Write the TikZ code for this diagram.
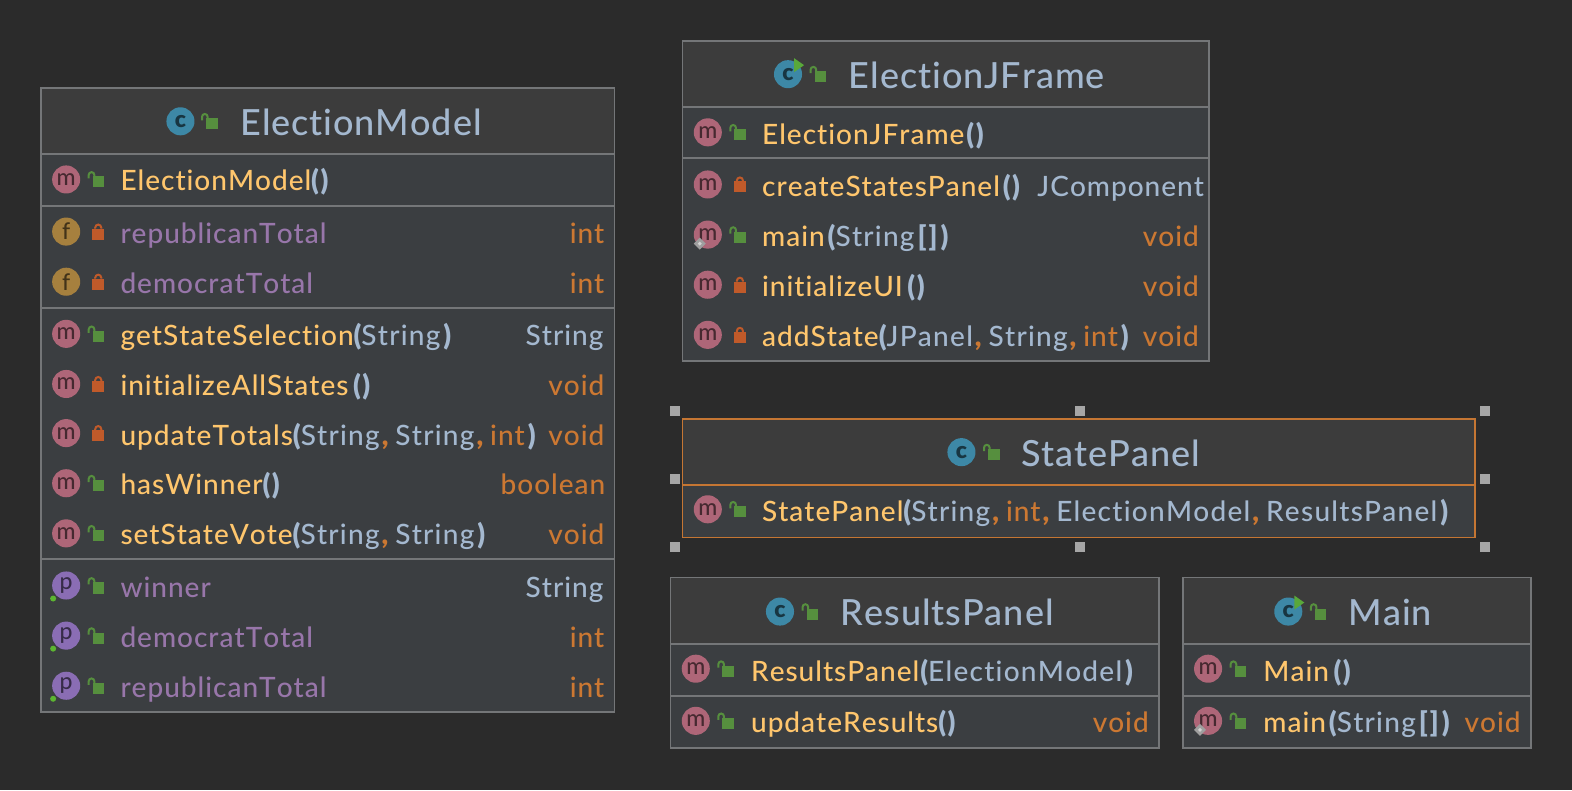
\documentclass[tikz,border=0pt]{standalone}
\usepackage{fontspec}
\setmainfont[LetterSpace=3.5,Kerning=Off,Ligatures=NoCommon,BoldFont={Lato Black}]{Lato Medium}
\definecolor{canvasbg}{HTML}{2B2B2B}
\definecolor{headbg}{HTML}{3C3C3C}
\definecolor{bodybg}{HTML}{3B3E41}
\definecolor{edgegray}{HTML}{747678}
\definecolor{pickorange}{HTML}{C57633}
\definecolor{titleblue}{HTML}{A4B8CF}
\definecolor{methyellow}{HTML}{FFC66D}
\definecolor{typeorange}{HTML}{CC7832}
\definecolor{fieldpurple}{HTML}{9876AA}
\definecolor{lockgreen}{HTML}{568F3E}
\definecolor{lockred}{HTML}{C05A2A}
\definecolor{runGreen}{HTML}{59A83A}
\definecolor{dotgreen}{HTML}{5CB531}
\definecolor{iconm}{HTML}{AE6678}
\definecolor{iconf}{HTML}{A6803E}
\definecolor{iconp}{HTML}{8A6DB4}
\definecolor{iconc}{HTML}{3D88A6}
\newcommand{\mth}[1]{\textcolor{methyellow}{#1}}
\newcommand{\prm}[1]{\textcolor{titleblue}{\addfontfeature{LetterSpace=4.5}#1}}
\newcommand{\fld}[1]{\textcolor{fieldpurple}{#1}}
\newcommand{\pn}[1]{\textcolor{titleblue}{\bfseries #1}}
\newcommand{\pe}{\pn{(}\hspace{1.5pt}\pn{)}}
\newcommand{\pc}{\hspace{3pt}\pn{)}}
\newcommand{\bkt}{\hspace{3pt}\pn{[}\hspace{2pt}\pn{]}\hspace{3pt}\pn{)}}
\newcommand{\cm}{\hspace{2pt}\textcolor{typeorange}{\bfseries ,}\hspace{7pt}}
\newcommand{\icon}[5]{\fill[#4] (#1,#2) circle (14);
  \node[iconletter,text=#4!40!black] (#5) at (#1,#2) {#3};}
\newcommand{\openlock}[2]{\begin{scope}[shift={(#1,#2)}]
  \fill[lockgreen] (-4.5,-3) rectangle (7,8);
  \draw[lockgreen,line width=2] (-8.5,-1) -- (-8.5,-4.5) arc (180:360:2.8) -- (-2.9,-2.5);
  \end{scope}}
\newcommand{\shutlock}[2]{\begin{scope}[shift={(#1,#2)}]
  \fill[lockred] (-5,-3) rectangle (7,8);
  \draw[lockred,line width=2] (-2,-3) -- (-2,-4) arc (180:360:3) -- (4,-3);
  \end{scope}}
\newcommand{\runmark}[2]{\fill[runGreen] (#1+6,#2-16) -- (#1+16,#2-9) -- (#1+6,#2-2) -- cycle;}
\newcommand{\staticmark}[2]{\fill[gray!75] (#1-8,#2+3) -- (#1-2,#2+9) -- (#1-8,#2+15) -- (#1-14,#2+9) -- cycle;
  \fill[gray!35] (#1-8,#2+7) -- (#1-6,#2+9) -- (#1-8,#2+11) -- (#1-10,#2+9) -- cycle;}
\newcommand{\classbox}[6]{\fill[bodybg] (#1,#2) rectangle (#3,#4);
  \fill[headbg] (#1,#2) rectangle (#3,#5);
  \draw[#6,line width=1.5] (#1,#2) rectangle (#3,#4);
  \draw[#6,line width=2] (#1,#5) -- (#3,#5);}
\tikzset{
  memb/.style={anchor=base west,inner sep=0pt,font=\fontsize{28}{30}\selectfont},
  kind/.style={anchor=base east,inner sep=0pt,font=\fontsize{28}{30}\selectfont,text=typeorange},
  cname/.style={anchor=base west,inner sep=0pt,font=\fontsize{36}{38}\selectfont\addfontfeature{LetterSpace=2.6},text=titleblue},
  iconletter/.style={inner sep=0pt,font=\fontsize{23}{24}\selectfont},
  sepline/.style={edgegray,line width=2},
  handle/.style={fill=gray!70!white,draw=none}
}
\begin{document}
\begin{tikzpicture}[x=1.0026pt,y=-1.0026pt]
\fill[canvasbg] (0,0) rectangle (1568,788);
\useasboundingbox (0,0) rectangle (1568,788);
% ElectionModel
\classbox{41}{88}{613}{710}{153.5}{edgegray}
\draw[sepline] (41,205)--(613,205) (41,307)--(613,307) (41,558)--(613,558);
\icon{180}{121}{\bfseries c}{iconc}{emHead}
\openlock{210}{121}
\node[cname] (emTitle) at (239.5,135) {ElectionModel};
\foreach \yy/\ltr/\col/\lk in {179/m/iconm/\openlock,231/f/iconf/\shutlock,281/f/iconf/\shutlock,
  333/m/iconm/\openlock,383/m/iconm/\shutlock,432/m/iconm/\shutlock,482/m/iconm/\openlock,532/m/iconm/\openlock,
  584/p/iconp/\openlock,634/p/iconp/\openlock,684/p/iconp/\openlock}{
  \icon{66}{\yy}{\ltr}{\col}{em\yy}
  \lk{97}{\yy}
}
\foreach \yy in {584,634,684}{
  \fill[dotgreen] (53,\yy+13) circle (3);
}
\node[memb] (emCtor) at (120,190.5) {\mth{ElectionModel}\pe};
\node[memb] (emRepF) at (120,242.5) {\fld{republicanTotal}};
\node[kind] (emRepFt) at (603,242.5) {int};
\node[memb] (emDemF) at (120,292.5) {\fld{democratTotal}};
\node[kind] (emDemFt) at (603,292.5) {int};
\node[memb] (emGet) at (120,344.5) {\mth{getStateSelection}\pn{(}\prm{String}\pc};
\node[kind,text=titleblue] (emGett) at (602,344.5) {String};
\node[memb] (emInit) at (120,394.5) {\mth{initializeAllStates}\,\pe};
\node[kind] (emInitt) at (603,394.5) {void};
\node[memb] (emUpd) at (120,444) {\mth{updateTotals}\pn{(}\prm{String}\cm\prm{String}\cm\textcolor{typeorange}{int}\pc};
\node[kind] (emUpdt) at (603,444) {void};
\node[memb] (emWin) at (120,493.5) {\mth{hasWinner}\pe};
\node[kind] (emWint) at (604,493.5) {boolean};
\node[memb] (emSet) at (120,543.5) {\mth{setStateVote}\pn{(}\prm{String}\cm\prm{String}\pc};
\node[kind] (emSett) at (603,543.5) {void};
\node[memb] (emWinP) at (120,595.5) {\fld{winner}};
\node[kind,text=titleblue] (emWinPt) at (602,595.5) {String};
\node[memb] (emDemP) at (120,645.5) {\fld{democratTotal}};
\node[kind] (emDemPt) at (603,645.5) {int};
\node[memb] (emRepP) at (120,695.5) {\fld{republicanTotal}};
\node[kind] (emRepPt) at (603,695.5) {int};
% ElectionJFrame
\classbox{681}{41}{1206}{360}{106.5}{edgegray}
\draw[sepline] (681,158)--(1206,158);
\icon{786}{74}{\bfseries c}{iconc}{efHead}
\runmark{786}{74}
\openlock{817}{74}
\node[cname] (efTitle) at (846.5,88) {ElectionJFrame};
\foreach \yy/\lk in {132/\openlock,184/\shutlock,234/\openlock,284/\shutlock,334/\shutlock}{
  \icon{706}{\yy}{m}{iconm}{ef\yy}
  \lk{737}{\yy}
}
\staticmark{706}{234}
\node[memb] (efCtor) at (760,144) {\mth{ElectionJFrame}\hspace{2pt}\pe};
\node[memb] (efPanel) at (760,196) {\mth{createStatesPanel}\hspace{3pt}\pe};
\node[kind,text=titleblue] (efPanelt) at (1201,196) {JComponent};
\node[memb] (efMain) at (760,245.5) {\mth{main}\hspace{3pt}\pn{(}\prm{String}\bkt};
\node[kind] (efMaint) at (1196,245.5) {void};
\node[memb] (efInit) at (760,295.5) {\mth{initializeUI}\,\pe};
\node[kind] (efInitt) at (1196,295.5) {void};
\node[memb] (efAdd) at (760,345.5) {\mth{addState}\pn{(}\prm{JPanel}\cm\prm{String}\cm\textcolor{typeorange}{int}\pc};
\node[kind] (efAddt) at (1196,345.5) {void};
% StatePanel
\classbox{681}{418}{1471}{536}{484}{pickorange}
\icon{959}{451}{\bfseries c}{iconc}{spHead}
\openlock{990}{451}
\node[cname] (spTitle) at (1018.5,465) {StatePanel};
\icon{706}{508}{m}{iconm}{spIcon}
\openlock{737}{508}
\node[memb] (spCtor) at (760,520.5) {\mth{StatePanel}\pn{(}\prm{String}\cm\textcolor{typeorange}{int}\cm\prm{ElectionModel}\cm\prm{ResultsPanel}\pc};
\foreach \hx in {673,1077,1481}{
  \foreach \hy in {410,478,546}{
    \ifnum\hx=1077 \ifnum\hy=478 \else \fill[handle] (\hx-5,\hy-5) rectangle (\hx+5,\hy+5); \fi
    \else \fill[handle] (\hx-5,\hy-5) rectangle (\hx+5,\hy+5); \fi
  }
}
% ResultsPanel
\classbox{669}{576}{1156}{746}{642.5}{edgegray}
\draw[sepline] (669,694)--(1156,694);
\icon{778}{610}{\bfseries c}{iconc}{rpHead}
\openlock{809}{610}
\node[cname] (rpTitle) at (838.5,624) {ResultsPanel};
\foreach \yy in {667,719}{
  \icon{694}{\yy}{m}{iconm}{rp\yy}
  \openlock{725}{\yy}
}
\node[memb] (rpCtor) at (749,679.5) {\mth{ResultsPanel}\hspace{1pt}\pn{(}\prm{ElectionModel}\pc};
\node[memb] (rpUpd) at (749,731) {\mth{updateResults}\pe};
\node[kind] (rpUpdt) at (1146,731) {void};
% Main
\classbox{1180}{576}{1527}{746}{642.5}{edgegray}
\draw[sepline] (1180,694)--(1527,694);
\icon{1285}{610}{\bfseries c}{iconc}{mnHead}
\runmark{1285}{610}
\openlock{1316}{610}
\node[cname] (mnTitle) at (1345,624) {Main};
\foreach \yy in {667,719}{
  \icon{1205}{\yy}{m}{iconm}{mn\yy}
  \openlock{1236}{\yy}
}
\staticmark{1205}{719}
\node[memb] (mnCtor) at (1260,679.5) {\mth{Main}\,\pe};
\node[memb] (mnMain) at (1260,731) {\mth{main}\hspace{3pt}\pn{(}\prm{String}\bkt};
\node[kind] (mnMaint) at (1517,731) {void};
\end{tikzpicture}
\end{document}
